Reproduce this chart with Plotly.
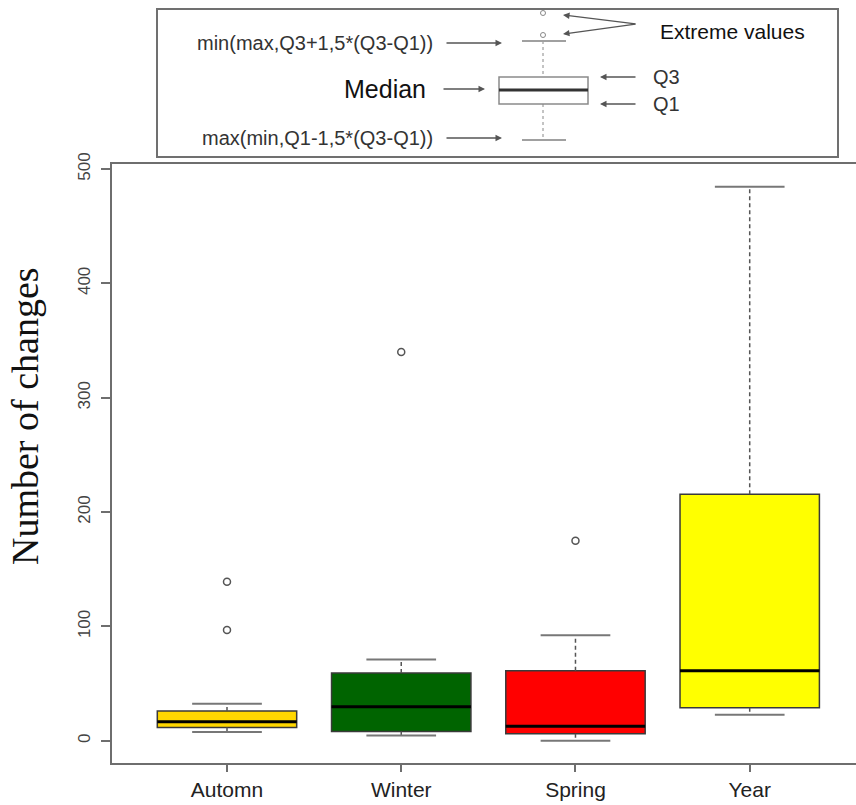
import plotly.graph_objects as go

# ---- data ----
categories = ["Automn", "Winter", "Spring", "Year"]
q1_vals = [11.7, 8.2, 6.2, 29.0]
median_vals = [16.6, 29.8, 12.7, 61.3]
q3_vals = [26.0, 59.3, 61.3, 215.7]
lower_whisk = [7.6, 4.7, 0.0, 22.7]
upper_whisk = [32.4, 71.0, 92.4, 484.4]
outliers = [[97.0, 139.0], [340.0], [175.0], []]
fill_colors = ["#FFD700", "#006400", "#FF0000", "#FFFF00"]
y_ticks = [0, 100, 200, 300, 400, 500]

W, H = 856, 805
L, R, T, B = 112, 0, 164, 42
PW, PH = W - L - R, H - T - B

positions = list(range(1, len(categories) + 1))
BOX_W = 0.8
CAP_W = 0.4

fig = go.Figure()

for i, cat in enumerate(categories):
    p = positions[i]
    fig.add_trace(go.Box(
        x=[p], q1=[q1_vals[i]], median=[median_vals[i]], q3=[q3_vals[i]],
        lowerfence=[q1_vals[i]], upperfence=[q3_vals[i]],
        width=BOX_W, fillcolor=fill_colors[i],
        line=dict(color="#3a3a3a", width=1.5),
        boxpoints=False, showlegend=False, hoverinfo="skip",
    ))

for i, cat in enumerate(categories):
    p = positions[i]
    # whiskers (dashed)
    fig.add_trace(go.Scatter(x=[p, p, None, p, p],
                             y=[q3_vals[i], upper_whisk[i], None, q1_vals[i], lower_whisk[i]],
                             mode="lines", line=dict(color="#555555", width=1.5, dash="4px,3px"),
                             showlegend=False, hoverinfo="skip"))
    # caps
    fig.add_trace(go.Scatter(x=[p - CAP_W / 2, p + CAP_W / 2, None, p - CAP_W / 2, p + CAP_W / 2],
                             y=[upper_whisk[i], upper_whisk[i], None, lower_whisk[i], lower_whisk[i]],
                             mode="lines", line=dict(color="#777777", width=2),
                             showlegend=False, hoverinfo="skip"))
    # median
    fig.add_trace(go.Scatter(x=[p - BOX_W / 2, p + BOX_W / 2], y=[median_vals[i]] * 2,
                             mode="lines", line=dict(color="#000000", width=3),
                             showlegend=False, hoverinfo="skip"))
    # outliers
    if outliers[i]:
        fig.add_trace(go.Scatter(x=[p] * len(outliers[i]), y=outliers[i], mode="markers",
                                 marker=dict(symbol="circle-open", size=7, color="#555555",
                                             line=dict(color="#555555", width=1.5)),
                                 showlegend=False, hoverinfo="skip"))

# ---- explanatory inset (pixel helpers) ----
def px(xp):
    return (xp - L) / PW

def py(yp):
    return (H - B - yp) / PH

shapes = []
annotations = []

shapes.append(dict(type="rect", xref="paper", yref="paper",
                   x0=px(157), x1=px(838), y0=py(157), y1=py(9),
                   line=dict(color="#707070", width=2), fillcolor="white", layer="above"))
# mini box
shapes.append(dict(type="rect", xref="paper", yref="paper",
                   x0=px(499), x1=px(588), y0=py(104), y1=py(77),
                   line=dict(color="#8a8a8a", width=1.5), fillcolor="white", layer="above"))
shapes.append(dict(type="line", xref="paper", yref="paper",
                   x0=px(499), x1=px(588), y0=py(90), y1=py(90),
                   line=dict(color="#333333", width=3), layer="above"))
for (ya, yb) in [(41, 77), (104, 140)]:
    shapes.append(dict(type="line", xref="paper", yref="paper",
                       x0=px(543), x1=px(543), y0=py(ya), y1=py(yb),
                       line=dict(color="#888888", width=1, dash="dot"), layer="above"))
for yc in [41, 140]:
    shapes.append(dict(type="line", xref="paper", yref="paper",
                       x0=px(522), x1=px(566), y0=py(yc), y1=py(yc),
                       line=dict(color="#a0a0a0", width=2), layer="above"))
for yc in [13, 35]:
    shapes.append(dict(type="circle", xref="paper", yref="paper",
                       x0=px(540.5), x1=px(545.5), y0=py(yc + 2.5), y1=py(yc - 2.5),
                       line=dict(color="#888888", width=1), layer="above"))

def arrow(x0, y0, x1, y1):
    annotations.append(dict(xref="paper", yref="paper", x=px(x1), y=py(y1),
                            ax=x0 - x1, ay=y0 - y1, text="", showarrow=True,
                            arrowhead=2, arrowsize=1, arrowwidth=1.3, arrowcolor="#555555"))

arrow(445, 43, 502, 43)
arrow(442, 89, 485, 89)
arrow(445, 138, 502, 138)
arrow(637, 77, 600, 77)
arrow(637, 104, 600, 104)
arrow(637, 24, 563, 15)
arrow(637, 24, 563, 34)

SANS = "Liberation Sans, Arial, sans-serif"

def text(t, x, y, size, color, xanchor):
    annotations.append(dict(xref="paper", yref="paper", x=px(x), y=py(y), text=t,
                            showarrow=False, xanchor=xanchor, yanchor="middle",
                            font=dict(family=SANS, size=size, color=color)))

text("min(max,Q3+1,5*(Q3-Q1))", 435, 43, 20, "#333333", "right")
text("Median", 385, 89, 25, "#111111", "center")
text("max(min,Q1-1,5*(Q3-Q1))", 435, 138, 20, "#333333", "right")
text("Extreme values", 658, 31, 21, "#111111", "left")
text("Q3", 651, 77, 20, "#333333", "left")
text("Q1", 651, 104, 20, "#333333", "left")

# y-axis title
annotations.append(dict(xref="paper", yref="paper", x=px(25), y=py(416), text="Number of changes",
                        showarrow=False, textangle=-90, xanchor="center", yanchor="middle",
                        font=dict(family="Liberation Serif, Times New Roman, serif", size=38,
                                  color="#111111")))

fig.update_layout(
    width=W, height=H,
    margin=dict(l=L, r=R, t=T, b=B, pad=0, autoexpand=False),
    paper_bgcolor="white", plot_bgcolor="white",
    shapes=shapes, annotations=annotations,
    showlegend=False,
    xaxis=dict(range=[0.34, 4.61], tickvals=positions, ticktext=categories,
               automargin=False,
               showgrid=False, zeroline=False, showline=True, mirror=True,
               linecolor="#6e6e6e", linewidth=2, ticks="outside", ticklen=7,
               tickcolor="#6e6e6e", tickwidth=1.5,
               tickfont=dict(family=SANS, size=21, color="#222222")),
    yaxis=dict(range=[-19.4, 504.4], tickvals=y_ticks, ticktext=[str(v) for v in y_ticks],
               automargin=False,
               showgrid=False, zeroline=False, showline=True,
               linecolor="#6e6e6e", linewidth=2, ticks="outside", ticklen=9,
               tickcolor="#6e6e6e", tickwidth=1.5, tickangle=-90,
               ticklabelstandoff=4,
               tickfont=dict(family=SANS, size=17, color="#444444")),
)

fig.write_html("out.html", config={"displayModeBar": False},
               post_script="document.body.style.margin='0px';")
